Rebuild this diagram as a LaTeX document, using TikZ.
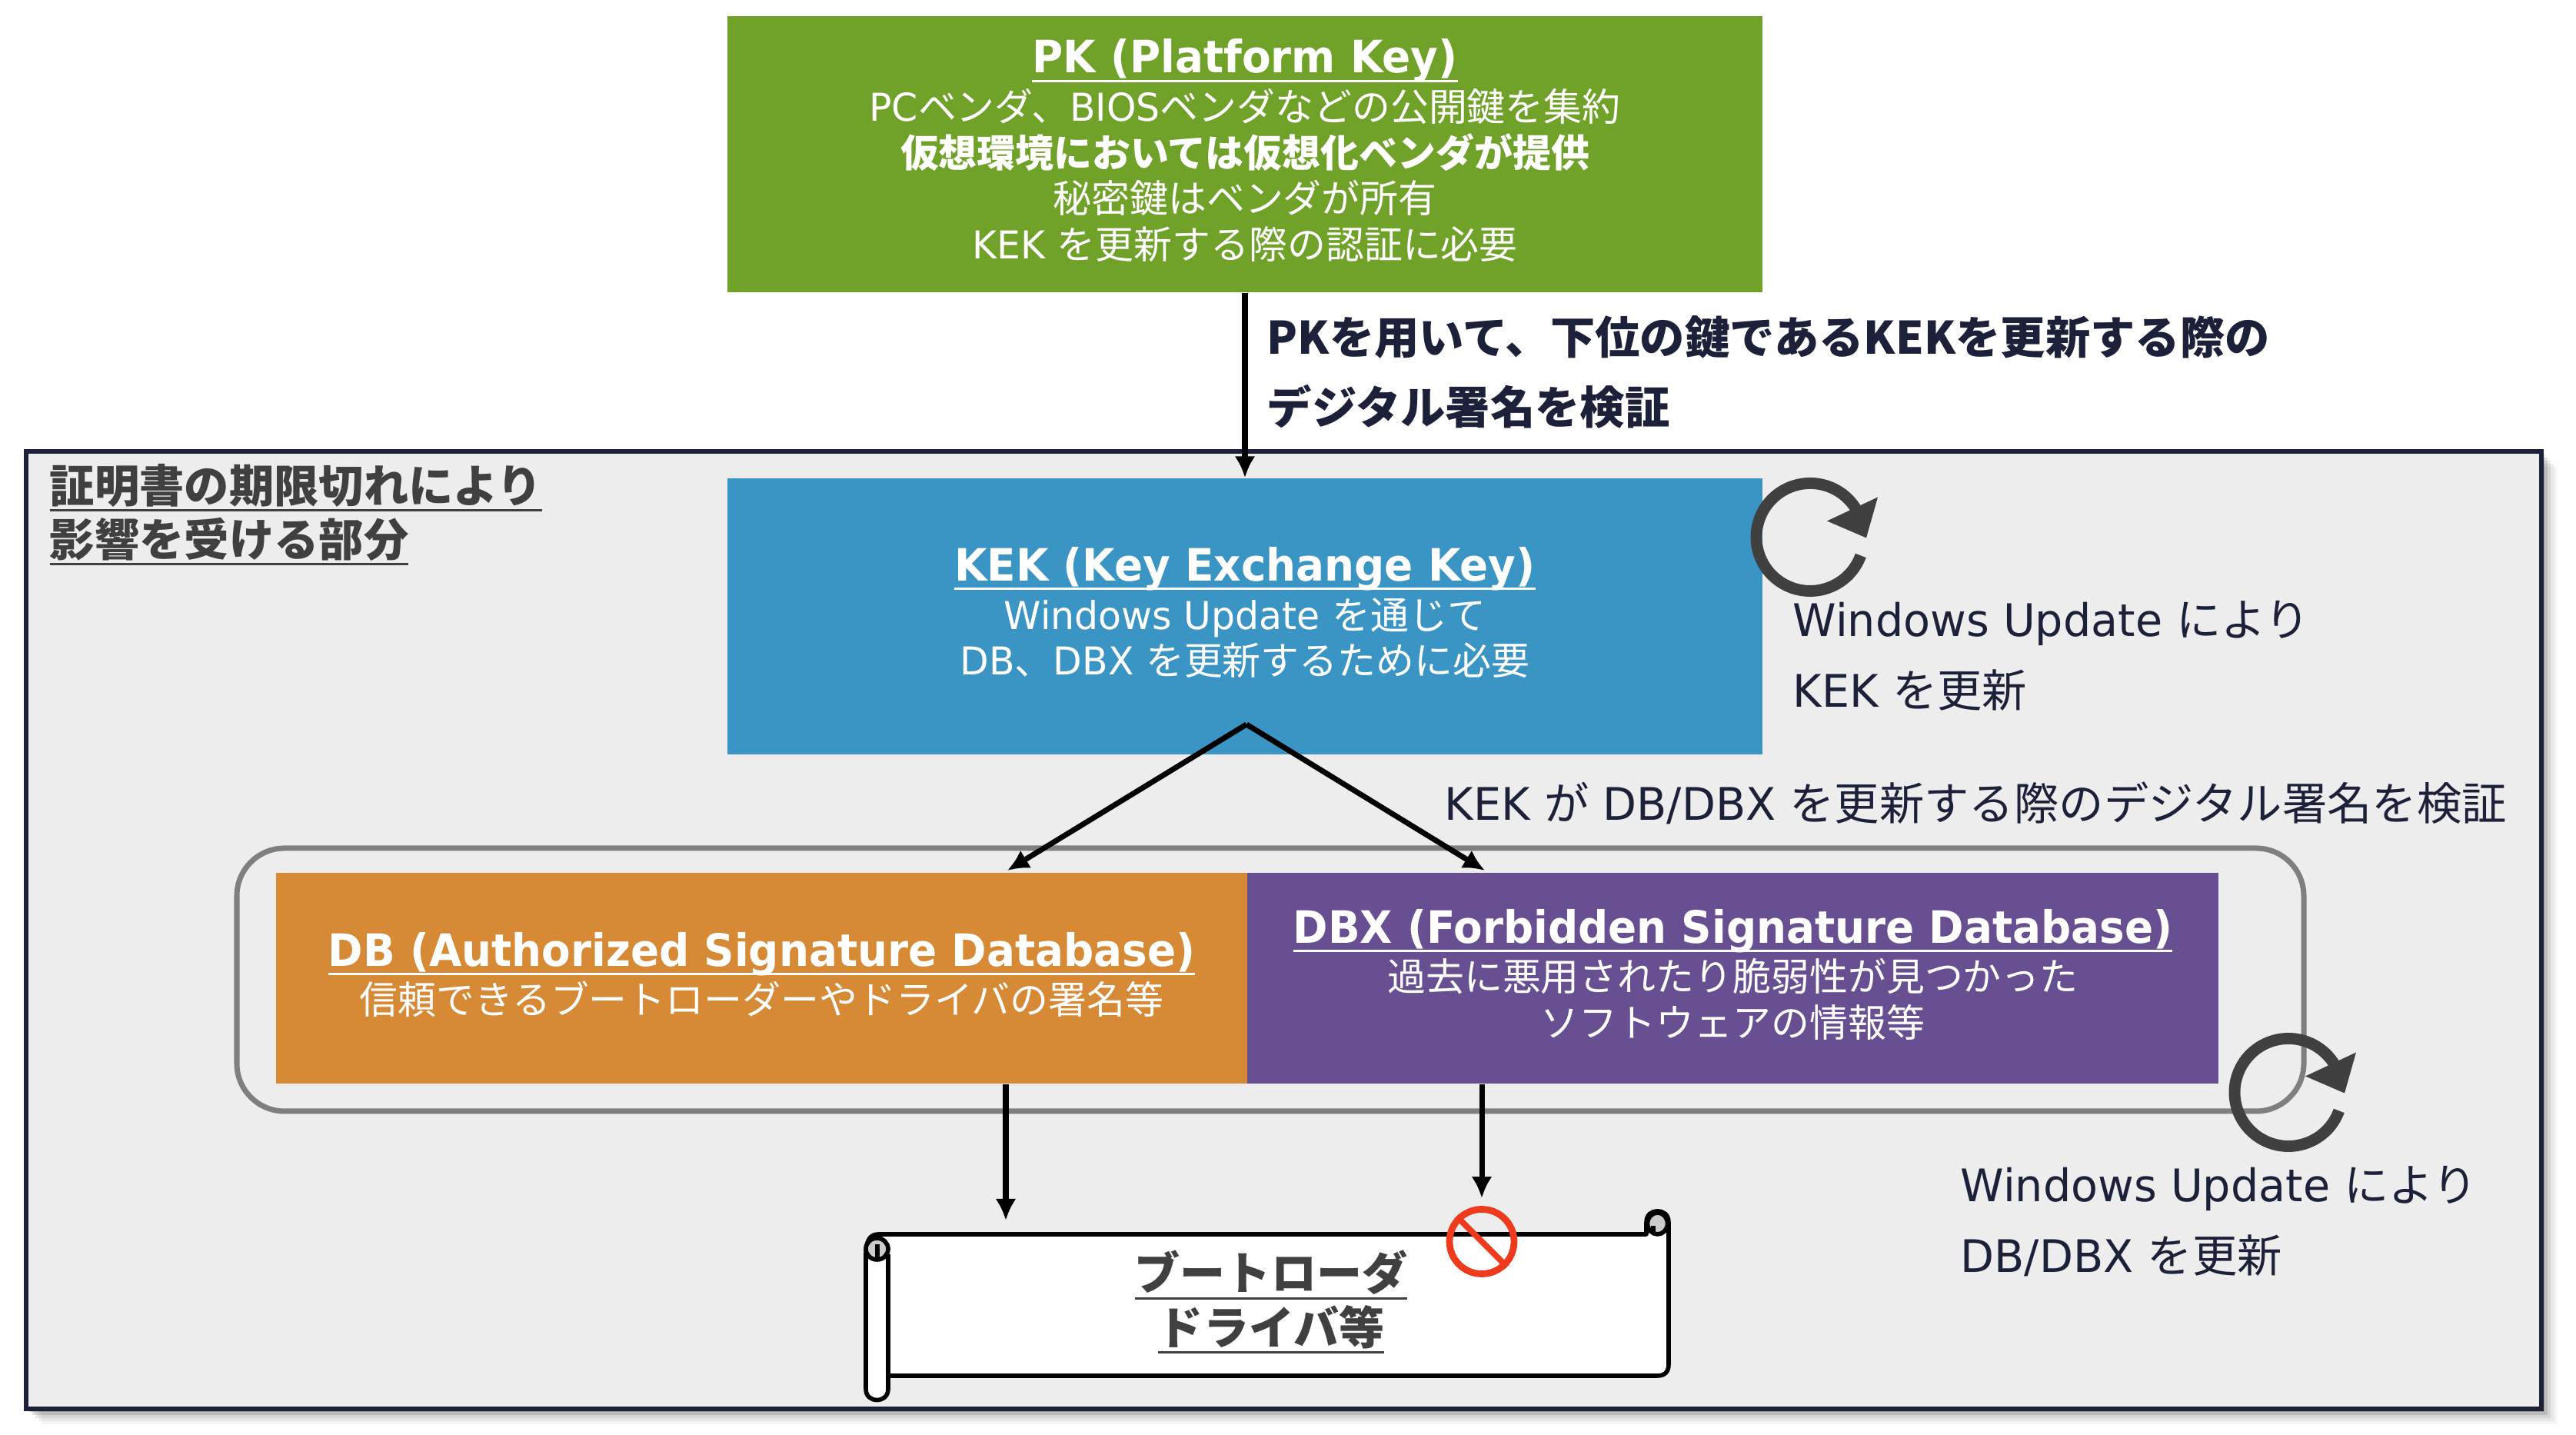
\documentclass[tikz,border=0pt]{standalone}
\usepackage{fontspec}
\usepackage{xcolor}
\setmainfont[FakeStretch=0.98,BoldFeatures={FakeStretch=0.945}]{DejaVu Sans}
\newfontfamily\jp{Noto Sans CJK JP}
\newcommand{\ja}[1]{{\jp #1}}
\newcommand{\keyul}[1]{\setbox0=\hbox{#1}\rlap{\rule[-3.3pt]{\wd0}{0.85pt}}\box0}
\usetikzlibrary{arrows.meta,shapes,positioning}

\definecolor{pkgreen}{HTML}{70A128}
\definecolor{kekblue}{HTML}{3A95C4}
\definecolor{dborange}{HTML}{D78A36}
\definecolor{dbxpurple}{HTML}{684F91}
\definecolor{panelgray}{HTML}{EDEDED}
\definecolor{navy}{HTML}{1C2039}
\definecolor{darkgray}{HTML}{404040}
\definecolor{ringgray}{HTML}{7F7F7F}
\definecolor{curlgray}{HTML}{CCCCCC}
\definecolor{stopred}{HTML}{EE3B1E}

\tikzset{
    keybox/.style={inner sep=0pt, text=white, align=center, minimum height=3.59cm,
        minimum width=13.455cm, font=\fontsize{14.2}{17}\selectfont},
    dbbox/.style={keybox, minimum height=2.74cm, minimum width=12.63cm},
    note/.style={anchor=west, inner sep=0pt, text=navy, align=left, font=\fontsize{16.6}{26}\selectfont},
    heading/.style={inner sep=0pt, text=darkgray, font=\fontsize{16.6}{20}\selectfont\bfseries},
    arr/.style={-{Latex[length=0.28cm,width=0.27cm]}, line width=2pt, black},
    scrollline/.style={draw=black, line width=1.6pt, line join=round},
    rotmark/.pic={
        \draw[line width=4.25pt, darkgray] (-20:0.7) arc (-20:-335:0.7);
        \fill[darkgray] (0.88,0.52) -- (0.22,0.21) -- (0.73,-0.01) -- cycle;
    }
}

\begin{document}
\begin{tikzpicture}
        \useasboundingbox (0,0) rectangle (33.5,18.66);

        % panel with its soft shadow
        \foreach \off/\op in {0.20/0.04,0.16/0.06,0.12/0.08,0.08/0.12,0.04/0.16}
            \fill[black, opacity=\op] (0.34+\off,0.34-\off) rectangle (33.05+\off,12.79-\off);
        \node[draw=navy, fill=panelgray, line width=1.7pt, inner sep=0pt, minimum width=32.71cm, minimum height=12.45cm] (panel) at (16.695,6.565) {};

        \node[heading, anchor=west, align=left] (scope) at (0.64,11.97) {\keyul{\ja{証明書の期限切れにより}}\\\keyul{\ja{影響を受ける部分}}};

        \node[draw=ringgray, line width=2pt, rounded corners=0.62cm, minimum width=26.88cm, minimum height=3.42cm] (ring) at (16.52,5.92) {};

        \node[keybox, fill=pkgreen] (PK) at (16.19,16.655) {{\fontsize{16.5}{17}\selectfont\bfseries\keyul{PK (Platform Key)}}\\[0.8pt]
            PC\ja{ベンダ、}BIOS\ja{ベンダなどの公開鍵を集約}\\
            \ja{\bfseries 仮想環境においては仮想化ベンダが提供}\\
            \ja{秘密鍵はベンダが所有}\\
            KEK \ja{を更新する際の認証に必要}\\[-13.2pt]};
        \node[keybox, fill=kekblue] (KEK) at (16.19,10.645) {{\fontsize{16.5}{17}\selectfont\bfseries\keyul{KEK (Key Exchange Key)}}\\[0.8pt]
            Windows Update \ja{を通じて}\\
            DB\ja{、}DBX \ja{を更新するために必要}\\[-13.2pt]};
        \node[dbbox, fill=dborange] (DB) at (9.905,5.94) {{\fontsize{16.5}{17}\selectfont\bfseries\keyul{DB (Authorized Signature Database)}}\\[0.8pt]
            \ja{信頼できるブートローダーやドライバの署名等}\\[-13.2pt]};
        \node[dbbox, fill=dbxpurple] (DBX) at (22.535,5.94) {{\fontsize{16.5}{17}\selectfont\bfseries\keyul{DBX (Forbidden Signature Database)}}\\[0.8pt]
            \ja{過去に悪用されたり脆弱性が見つかった}\\
            \ja{ソフトウェアの情報等}\\[-13.2pt]};

        \node[note, font=\fontsize{16.6}{26}\selectfont\bfseries] (pknote) at (16.47,13.82) {\ja{\bfseries PKを用いて、下位の鍵であるKEKを更新する際の}\\\ja{\bfseries デジタル署名を検証}};
        \node[note] (kekupd) at (23.31,10.13) {Windows Update \ja{により}\\KEK \ja{を更新}};
        \node[note] (keknote) at (18.78,8.22) {KEK \ja{が} DB/DBX \ja{を更新する際のデジタル署名を検証}};
        \node[note] (dbupd) at (25.49,2.78) {Windows Update \ja{により}\\DB/DBX \ja{を更新}};

        \coordinate (kekfan) at (16.21,9.24);
        \coordinate (dbtip) at (13.10,7.34);
        \coordinate (dbxtip) at (19.31,7.34);
        \coordinate (bootin) at (13.08,2.79);

        \draw[arr] (PK) -- (KEK);
        \draw[arr] (kekfan) -- (dbtip);
        \draw[arr] (kekfan) -- (dbxtip);

        % scroll
        \draw[scrollline, fill=white] (11.26,2.35) .. controls (11.26,2.5) and (11.3,2.61) .. (11.42,2.61) -- (21.41,2.61) -- (21.41,2.76)
            .. controls (21.41,2.87) and (21.48,2.91) .. (21.555,2.91) .. controls (21.63,2.91) and (21.70,2.87) .. (21.70,2.76)
            -- (21.70,0.92) .. controls (21.70,0.82) and (21.65,0.77) .. (21.55,0.77) -- (11.55,0.77) -- (11.55,0.6)
            .. controls (11.55,0.5) and (11.48,0.455) .. (11.405,0.455) .. controls (11.33,0.455) and (11.26,0.5) .. (11.26,0.6) -- cycle;
        \draw[scrollline] (11.55,0.77) -- (11.55,2.35);
        \draw[scrollline, fill=curlgray] (11.405,2.42) ellipse (0.145 and 0.14);
        \draw[scrollline] (11.41,2.3) -- (11.41,2.48);
        \draw[scrollline, fill=curlgray] (21.555,2.75) ellipse (0.13 and 0.14);
        \draw[scrollline] (21.5,2.61) -- (21.5,2.72);
        \node[heading, align=center, font=\fontsize{16.8}{20}\selectfont\bfseries] (boot) at (16.53,1.73) {\keyul{\ja{ブートローダ}}\\\keyul{\ja{ドライバ等}}};

        \node[draw=stopred, circle, line width=2.5pt, minimum size=0.84cm, inner sep=0pt] (nosign) at (19.27,2.515) {};
        \draw[stopred, line width=2.2pt] (nosign.135) -- (nosign.-45);

        \draw[arr] (DB.south -| bootin) -- (bootin);
        \draw[arr] (DBX.south -| nosign) -- ([yshift=0.1cm]nosign.north);

        \pic at (23.54,11.675) {rotmark};
        \pic at (29.76,4.455) {rotmark};
    \end{tikzpicture}
\end{document}
